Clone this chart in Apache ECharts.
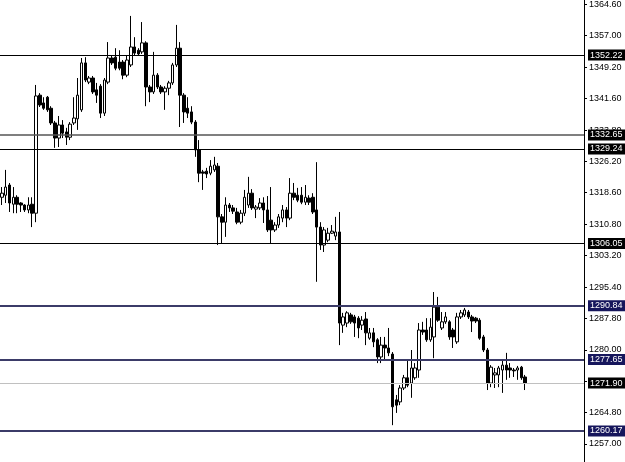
<!DOCTYPE html>
<html><head><meta charset="utf-8">
<script src="https://cdn.jsdelivr.net/npm/echarts@6/dist/echarts.min.js"></script>
<style>html,body{margin:0;padding:0;background:#fff}#c{width:625px;height:462px}</style>
</head><body><div id="c"></div>
<script>
// Candles (price values)
const OPEN = [1317.4,1317.9,1320.4,1315.7,1317.4,1316.0,1315.5,1314.3,1315.7,1313.5,
1342.4,1340.5,1341.9,1339.2,1335.6,1331.9,1335.1,1333.4,1332.1,1335.6,
1336.6,1338.8,1350.3,1345.6,1346.6,1343.7,1344.6,1338.0,1345.6,1351.5,
1351.7,1350.5,1350.5,1347.3,1349.8,1354.2,1353.4,1353.0,1355.2,1344.4,
1343.2,1347.3,1344.4,1343.2,1344.1,1345.4,1349.8,1353.9,1342.4,1339.2,
1338.3,1335.8,1329.0,1323.6,1323.8,1323.3,1324.1,1325.0,1312.6,1311.3,
1315.5,1314.8,1313.8,1311.3,1313.5,1315.5,1318.4,1314.5,1314.8,1316.0,
1314.3,1311.8,1309.4,1310.6,1312.3,1314.3,1312.3,1318.4,1317.9,1317.9,
1316.2,1317.2,1317.4,1314.3,1310.1,1305.7,1306.9,1308.6,1307.9,1308.9,
1286.1,1286.6,1288.6,1288.1,1287.8,1286.1,1287.6,1282.9,1284.2,1282.5,
1278.3,1281.2,1280.5,1279.0,1267.8,1267.3,1270.7,1273.2,1271.9,1273.2,
1275.1,1284.9,1284.9,1282.5,1283.2,1290.5,1285.4,1286.9,1286.9,1284.9,
1282.0,1288.1,1288.6,1289.3,1288.1,1287.8,1287.3,1283.2,1280.0,1271.9,
1273.9,1273.9,1275.1,1276.3,1275.6,1275.1,1275.1,1275.8,1273.4];
const CLOSE = [1318.4,1319.9,1316.0,1317.4,1315.7,1315.5,1314.3,1315.5,1313.5,1342.2,
1340.0,1339.2,1338.8,1335.6,1331.9,1335.1,1333.1,1332.1,1335.3,1336.8,
1342.4,1350.3,1346.1,1346.6,1343.2,1342.4,1338.0,1346.1,1351.5,1350.3,
1349.0,1349.0,1347.3,1351.0,1354.2,1352.7,1352.5,1355.2,1344.4,1343.2,
1347.3,1344.4,1343.2,1344.1,1345.4,1349.8,1353.9,1342.4,1338.3,1338.0,
1335.8,1329.0,1323.3,1323.3,1323.1,1325.0,1325.3,1312.6,1311.3,1315.5,
1314.8,1314.0,1311.3,1313.5,1317.4,1318.4,1314.8,1315.0,1316.0,1314.3,
1309.4,1309.4,1310.6,1312.6,1314.3,1312.3,1318.4,1317.4,1316.7,1316.2,
1317.4,1316.2,1313.8,1310.1,1305.7,1309.4,1308.6,1309.1,1308.9,1286.6,
1288.1,1289.1,1286.9,1286.6,1285.4,1287.3,1284.2,1284.2,1282.0,1278.3,
1281.2,1280.5,1279.3,1266.1,1266.5,1270.7,1273.2,1271.4,1275.6,1275.6,
1284.9,1284.4,1282.5,1285.6,1290.5,1287.3,1286.9,1288.1,1283.2,1283.2,
1288.1,1289.1,1289.8,1288.1,1287.1,1287.1,1282.9,1280.0,1271.9,1275.8,
1274.4,1275.6,1276.3,1275.1,1275.1,1274.9,1275.6,1273.2,1271.9];
const LOW = [1315.5,1316.0,1313.8,1313.5,1313.5,1313.8,1313.8,1313.5,1310.1,1311.3,
1339.5,1338.8,1338.3,1335.1,1329.5,1329.7,1331.9,1330.2,1331.4,1335.1,
1333.9,1338.3,1345.6,1345.1,1342.7,1340.5,1336.8,1337.3,1345.1,1349.8,
1348.5,1348.5,1346.3,1346.8,1349.3,1352.2,1352.0,1352.5,1339.7,1340.7,
1342.7,1343.9,1342.7,1338.8,1342.4,1344.9,1349.3,1334.6,1335.6,1336.8,
1335.3,1327.3,1321.1,1319.2,1322.1,1322.8,1323.6,1305.7,1306.2,1307.7,
1313.8,1313.3,1310.8,1310.8,1312.8,1314.8,1314.3,1312.3,1314.3,1311.1,
1308.9,1306.2,1308.9,1309.9,1311.3,1310.1,1311.8,1316.7,1316.2,1315.7,
1315.5,1315.5,1313.3,1296.7,1304.5,1304.0,1306.4,1308.4,1306.9,1281.2,
1284.2,1285.6,1286.4,1283.2,1282.9,1284.9,1281.2,1282.5,1280.7,1276.8,
1276.8,1277.6,1278.5,1261.6,1264.6,1266.5,1270.2,1270.9,1268.3,1272.7,
1273.2,1283.7,1282.0,1282.0,1278.0,1286.9,1284.9,1286.4,1282.5,1280.5,
1281.5,1287.6,1288.1,1287.6,1284.4,1286.6,1282.5,1279.5,1270.2,1270.9,
1270.7,1270.9,1269.5,1272.7,1273.2,1273.4,1272.7,1272.7,1270.2];
const HIGH = [1319.9,1324.1,1320.9,1319.9,1317.9,1316.2,1315.7,1317.4,1317.4,1344.9,
1342.9,1341.9,1342.2,1339.7,1336.1,1337.3,1336.3,1334.4,1335.8,1341.9,
1346.6,1351.5,1351.7,1347.1,1347.1,1345.4,1345.1,1346.6,1355.4,1352.2,
1353.9,1353.4,1351.0,1352.2,1361.8,1356.6,1353.9,1360.3,1355.6,1344.9,
1353.0,1347.8,1344.9,1344.6,1345.9,1350.3,1359.6,1355.4,1342.9,1341.9,
1339.7,1336.3,1331.4,1324.1,1324.6,1326.5,1327.3,1325.8,1313.3,1317.4,
1316.0,1315.5,1314.8,1314.3,1319.2,1322.4,1319.4,1315.5,1317.2,1317.4,
1317.7,1319.9,1311.3,1313.3,1315.5,1315.0,1322.1,1320.9,1319.7,1319.9,
1320.4,1317.9,1318.4,1326.0,1311.3,1310.1,1309.9,1310.6,1312.6,1313.8,
1289.1,1289.5,1289.1,1288.6,1288.3,1288.3,1289.3,1285.4,1285.4,1282.9,
1283.2,1283.2,1285.4,1279.5,1269.0,1271.4,1273.9,1277.6,1280.0,1276.8,
1286.6,1286.9,1287.8,1287.8,1294.2,1293.0,1289.3,1289.3,1287.3,1285.4,
1289.1,1289.8,1290.3,1289.8,1288.6,1288.1,1287.8,1283.7,1280.5,1276.3,
1275.6,1276.1,1277.6,1279.3,1276.8,1275.6,1276.1,1276.1,1273.9];

// Price axis tick labels
const TICKS = [1364.60,1357.00,1349.20,1341.60,1333.80,1326.20,1318.60,1310.80,1303.20,1295.40,1287.80,1280.00,1272.40,1264.80,1257.00];
// Horizontal levels
const LEVELS = [1352.22,1332.65,1329.24,1306.05,1290.84,1277.65,1271.90,1260.17];
const LEVEL_KIND = ['black','grey','black','black','navy','navy','price','navy'];
const Y_MIN = 1252.58, Y_MAX = 1365.68;
const SLOTS = 154; // bar slots on the time axis (empty ones on the right)

const CATS = [];
for (let i = 0; i < SLOTS; i++) CATS.push(String(i + 1));
const candles = OPEN.map((o, i) => [o, CLOSE[i], LOW[i], HIGH[i]]);

const STYLE = {
  black: {line: {color: '#000', width: 1}, bg: '#000'},
  grey:  {line: {color: '#555', width: 1.5}, bg: '#000'},
  navy:  {line: {color: '#3b3b68', width: 2}, bg: '#16165c'},
  price: {line: {color: '#c0c0c0', width: 1}, bg: '#000'}
};
const markData = LEVELS.map((v, i) => {
  const s = STYLE[LEVEL_KIND[i]];
  return {
    yAxis: v,
    lineStyle: Object.assign({type: 'solid'}, s.line),
    label: {
      show: true, position: 'end', distance: 4,
      formatter: v.toFixed(2),
      color: '#fff', backgroundColor: s.bg,
      fontSize: 9, fontFamily: 'Liberation Sans, Arial, sans-serif',
      padding: [1, 4, 0, 2], lineHeight: 10
    }
  };
});

const chart = echarts.init(document.getElementById('c'), null, {renderer: 'canvas'});
chart.setOption({
  animation: false,
  backgroundColor: '#fff',
  grid: {left: 0, right: 41, top: 0, bottom: 0},
  xAxis: {
    type: 'category', data: CATS, boundaryGap: true,
    axisLine: {show: false}, axisTick: {show: false}, axisLabel: {show: false},
    splitLine: {show: false}
  },
  yAxis: {
    type: 'value', position: 'right', min: Y_MIN, max: Y_MAX, scale: true,
    axisLine: {show: true, lineStyle: {color: '#000', width: 1}},
    axisTick: {show: true, inside: false, length: 3, lineStyle: {color: '#000'}, customValues: TICKS},
    axisLabel: {
      show: true, customValues: TICKS, margin: 5,
      formatter: v => v.toFixed(2),
      color: '#000', fontSize: 9, fontFamily: 'Liberation Sans, Arial, sans-serif'
    },
    splitLine: {show: false}
  },
  series: [{
    type: 'candlestick',
    data: candles,
    barWidth: 3,
    itemStyle: {color: '#fff', color0: '#000', borderColor: '#000', borderColor0: '#000', borderWidth: 1},
    markLine: {
      silent: true, symbol: ['none', 'none'], animation: false,
      data: markData
    }
  }]
});
</script>
</body></html>
